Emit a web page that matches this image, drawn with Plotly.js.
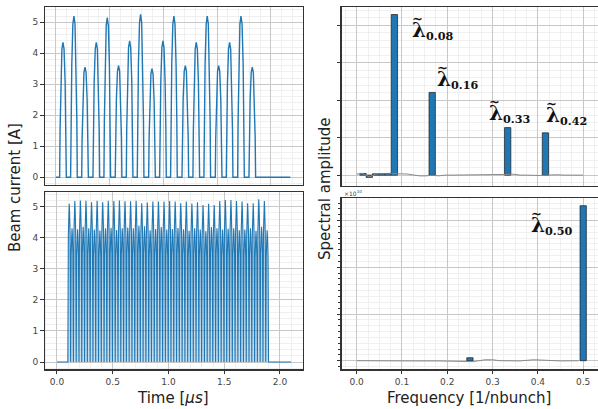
<!DOCTYPE html>
<html><head><meta charset="utf-8">
<script src="https://cdn.plot.ly/plotly-3.0.1.min.js"></script>
<style>html,body{margin:0;padding:0;overflow:hidden;background:#fff;width:598px;height:409px}</style>
</head><body><div id="plot" style="width:602px;height:409px"></div>
<script>
// ---------- data ----------
// top-left: pulse centres [µs] and peak currents [A]
const topCenters = [0.065,0.167,0.270,0.375,0.477,0.582,0.685,0.787,0.893,0.995,1.097,1.203,1.305,1.407,1.513,1.615,1.721,1.826];
const topPeaks   = [4.35,5.2,3.55,4.35,5.15,3.6,4.4,5.25,3.5,4.4,5.2,3.6,4.35,5.2,3.6,4.35,5.2,3.55];
const topPulseDt    = [-0.031,-0.027,-0.02,-0.01,0,0.01,0.02,0.027,0.031];
const topPulseShape = [0,0.35,0.7,0.95,1,0.95,0.7,0.35,0];
const topStart = 0.0, topEnd = 2.18;

// bottom-left: alternating tall / short bunches
const botTallCenters = [0.11,0.16,0.21,0.26,0.31,0.36,0.41,0.46,0.51,0.56,0.61,0.66,0.71,0.76,0.81,0.86,0.91,0.96,1.01,1.06,1.11,1.16,1.21,1.26,1.31,1.36,1.41,1.46,1.51,1.56,1.61,1.66,1.71,1.76,1.81,1.86];
const botTallPeaks = [5.09,5.18,5.2,5.19,5.14,5.19,5.14,5.19,5.18,5.2,5.17,5.17,5.19,5.11,5.13,5.16,5.16,5.16,5.18,5.16,5.11,5.16,5.1,5.14,5.05,5.09,5.05,5.18,5.21,5.21,5.18,5.16,5.11,5.11,5.24,5.18];
const botShortCenters = [0.135,0.185,0.235,0.285,0.335,0.385,0.435,0.485,0.535,0.585,0.635,0.685,0.735,0.785,0.835,0.885,0.935,0.985,1.035,1.085,1.135,1.185,1.235,1.285,1.335,1.385,1.435,1.485,1.535,1.585,1.635,1.685,1.735,1.785,1.835,1.885];
const botShortPeaks = [4.3,4.27,4.35,4.3,4.26,4.23,4.3,4.32,4.25,4.3,4.33,4.3,4.38,4.37,4.24,4.28,4.34,4.26,4.28,4.31,4.27,4.22,4.3,4.26,4.21,4.34,4.3,4.26,4.29,4.3,4.24,4.26,4.3,4.22,4.35,4.24];
const botPulseDt    = [-0.0125,-0.008,-0.003,0,0.003,0.008,0.0125];
const botPulseShape = [0,0.8,0.95,1,0.95,0.8,0];
const botStart = 0.0, botEnd = 2.1;

// top-right spectrum (bars) and background line
const specTopFreq = [0.01389,0.02778,0.04167,0.05556,0.06944,0.08333,0.16667,0.33333,0.41667];
const specTopAmp  = [0.045,-0.06,0.035,0.04,0.045,4.29,2.21,1.27,1.13];
const lineTopFreq = [0.0,0.014,0.028,0.042,0.056,0.069,0.083,0.097,0.111,0.125,0.139,0.153,0.167,0.181,0.194,0.208,0.25,0.30,0.319,0.333,0.347,0.361,0.375,0.389,0.403,0.417,0.431,0.444,0.458,0.5];
const lineTopAmp  = [0.03,0.04,-0.05,0.03,0.035,0.04,0.04,0.035,0.03,0.0,-0.02,-0.02,0.0,-0.02,0.0,0.0,0.0,0.0,0.0,0.02,0.025,0.0,0.0,-0.01,-0.01,0.0,0.015,0.01,0.0,0.0];
// bottom-right spectrum
const specBotFreq = [0.25,0.5];
const specBotAmp  = [0.064,3.32];
const lineBotFreq = [0.0,0.05,0.0956,0.11,0.129,0.18,0.228,0.243,0.257,0.27,0.283,0.3,0.316,0.36,0.39,0.405,0.45,0.49];
const lineBotAmp  = [0.0,-0.005,-0.015,-0.015,-0.005,-0.005,-0.02,-0.02,-0.02,0.0,0.02,0.02,0.0,-0.005,0.02,0.015,-0.005,0.0];

const lambdaLabels = ['0.08','0.16','0.33','0.42','0.50'];
const lambdaX = [0.1177,0.173,0.288,0.414,0.381];
const lambdaY = [3.86,2.55,1.66,1.58,2.9];

// ---------- build traces ----------
function pulseTrain(centers, peaks, dt, shape, t0, t1){
  const x=[t0], y=[0];
  centers.forEach((c,i)=>{ dt.forEach((d,j)=>{ x.push(c+d); y.push(peaks[i]*shape[j]); }); });
  x.push(t1); y.push(0);
  return {x,y};
}
const tl = pulseTrain(topCenters, topPeaks, topPulseDt, topPulseShape, topStart, topEnd);
const allC=[], allP=[];
botTallCenters.forEach((c,i)=>{ allC.push(c); allP.push(botTallPeaks[i]); allC.push(botShortCenters[i]); allP.push(botShortPeaks[i]); });
const bl = pulseTrain(allC, allP, botPulseDt, botPulseShape, botStart, botEnd);

const blue='#1f77b4';
const traces = [
  {x:tl.x,y:tl.y,type:'scatter',mode:'lines',line:{color:blue,width:1.4},xaxis:'x',yaxis:'y'},
  {x:bl.x,y:bl.y,type:'scatter',mode:'lines',line:{color:blue,width:1.1},fill:'tozeroy',fillcolor:'rgba(31,119,180,0.25)',xaxis:'x2',yaxis:'y2'},
  {x:lineTopFreq,y:lineTopAmp,type:'scatter',mode:'lines',line:{color:'#8a8a8a',width:1},xaxis:'x3',yaxis:'y3'},
  {x:specTopFreq,y:specTopAmp,type:'bar',width:0.0139,marker:{color:blue,line:{color:'#1a1a1a',width:0.7}},xaxis:'x3',yaxis:'y3'},
  {x:lineBotFreq,y:lineBotAmp,type:'scatter',mode:'lines',line:{color:'#8a8a8a',width:1},xaxis:'x4',yaxis:'y4'},
  {x:specBotFreq,y:specBotAmp,type:'bar',width:0.0139,marker:{color:blue,line:{color:'#1a1a1a',width:0.7}},xaxis:'x4',yaxis:'y4'}
];

// ---------- layout ----------
const W=602,H=409;
const px=v=>v/W, py=v=>(H-v)/H;
const frame={showline:true,mirror:true,linecolor:'#333',linewidth:1.2,zeroline:false,
  gridcolor:'#c8c8c8',gridwidth:1,tickfont:{family:'DejaVu Sans',size:9,color:'#444'},
  ticklen:3.5,tickcolor:'#333',tickwidth:1};
function ax(o){return Object.assign({},frame,o);}
const layout={
  width:W,height:H,margin:{l:0,r:0,t:0,b:0},paper_bgcolor:'#fff',plot_bgcolor:'#fff',
  showlegend:false,bargap:0,
  xaxis: ax({domain:[px(44.7),px(302.7)],range:[-0.105,2.295],dtick:0.5,ticks:'',showticklabels:false,anchor:'y',
    minor:{dtick:0.1,showgrid:true,gridcolor:'#ececec',gridwidth:0.8}}),
  yaxis: ax({domain:[py(185),py(6.7)],range:[-0.25,5.50],dtick:1,ticks:'outside',anchor:'x',
    minor:{dtick:0.2,showgrid:true,gridcolor:'#ececec',gridwidth:0.8}}),
  xaxis2: ax({domain:[px(44.7),px(302.7)],range:[-0.11,2.204],dtick:0.5,tickformat:'.1f',ticks:'outside',anchor:'y2',
    minor:{dtick:0.1,showgrid:true,gridcolor:'#ececec',gridwidth:0.8}}),
  yaxis2: ax({domain:[py(369.3),py(191.7)],range:[-0.235,5.48],dtick:1,ticks:'outside',anchor:'x2',
    minor:{dtick:0.2,showgrid:true,gridcolor:'#ececec',gridwidth:0.8}}),
  xaxis3: ax({domain:[px(341.5),px(599.5)],range:[-0.0335,0.536],dtick:0.1,ticks:'',showticklabels:false,anchor:'y3',
    minor:{dtick:0.025,showgrid:true,gridcolor:'#ececec',gridwidth:0.8}}),
  yaxis3: ax({domain:[py(186),py(6.7)],range:[-0.29,4.5],dtick:1,ticks:'outside',showticklabels:false,anchor:'x3',
    minor:{dtick:0.2,showgrid:true,gridcolor:'#ececec',gridwidth:0.8}}),
  xaxis4: ax({domain:[px(341.5),px(599.5)],range:[-0.0335,0.536],dtick:0.1,tickformat:'.1f',ticks:'outside',anchor:'y4',
    minor:{dtick:0.025,showgrid:true,gridcolor:'#ececec',gridwidth:0.8}}),
  yaxis4: ax({domain:[py(369.3),py(198.3)],range:[-0.184,3.478],dtick:1,ticks:'outside',showticklabels:false,anchor:'x4',
    minor:{dtick:0.125,showgrid:true,gridcolor:'#ececec',gridwidth:0.8,ticks:'outside',ticklen:2,tickcolor:'#333'}}),
  annotations:[]
};
const ttl={family:'DejaVu Sans',size:15,color:'#222'};
layout.annotations.push(
  {text:'Beam current [A]',xref:'paper',yref:'paper',x:px(15),y:py(188),textangle:-90,showarrow:false,font:ttl,xanchor:'center',yanchor:'middle'},
  {text:'Spectral amplitude',xref:'paper',yref:'paper',x:px(325),y:py(189),textangle:-90,showarrow:false,font:ttl,xanchor:'center',yanchor:'middle'},
  {text:'Time [<i>μs</i>]',xref:'paper',yref:'paper',x:px(173),y:py(398),showarrow:false,font:ttl,xanchor:'center',yanchor:'middle'},
  {text:'Frequency [1/nbunch]',xref:'paper',yref:'paper',x:px(469),y:py(398),showarrow:false,font:ttl,xanchor:'center',yanchor:'middle'},
  {text:'×10<sup>10</sup>',xref:'paper',yref:'paper',x:px(342),y:py(193),showarrow:false,font:{family:'DejaVu Sans',size:6,color:'#444'},xanchor:'left',yanchor:'middle'}
);
lambdaLabels.forEach((s,i)=>{
  const xr=i<4?'x3':'x4', yr=i<4?'y3':'y4';
  layout.annotations.push({text:'<b><span style="font-size:20px">λ</span><sub>'+s+'</sub></b>',xref:xr,yref:yr,
    x:lambdaX[i],y:lambdaY[i],showarrow:false,xanchor:'left',yanchor:'middle',
    font:{family:'DejaVu Serif',size:16,color:'#111'}});
  layout.annotations.push({text:'<b>~</b>',xref:xr,yref:yr,
    x:lambdaX[i],y:lambdaY[i],xshift:7,yshift:12,showarrow:false,xanchor:'center',yanchor:'middle',
    font:{family:'DejaVu Serif',size:13,color:'#111'}});
});
Plotly.newPlot('plot',traces,layout,{displayModeBar:false,staticPlot:true});
</script></body></html>
